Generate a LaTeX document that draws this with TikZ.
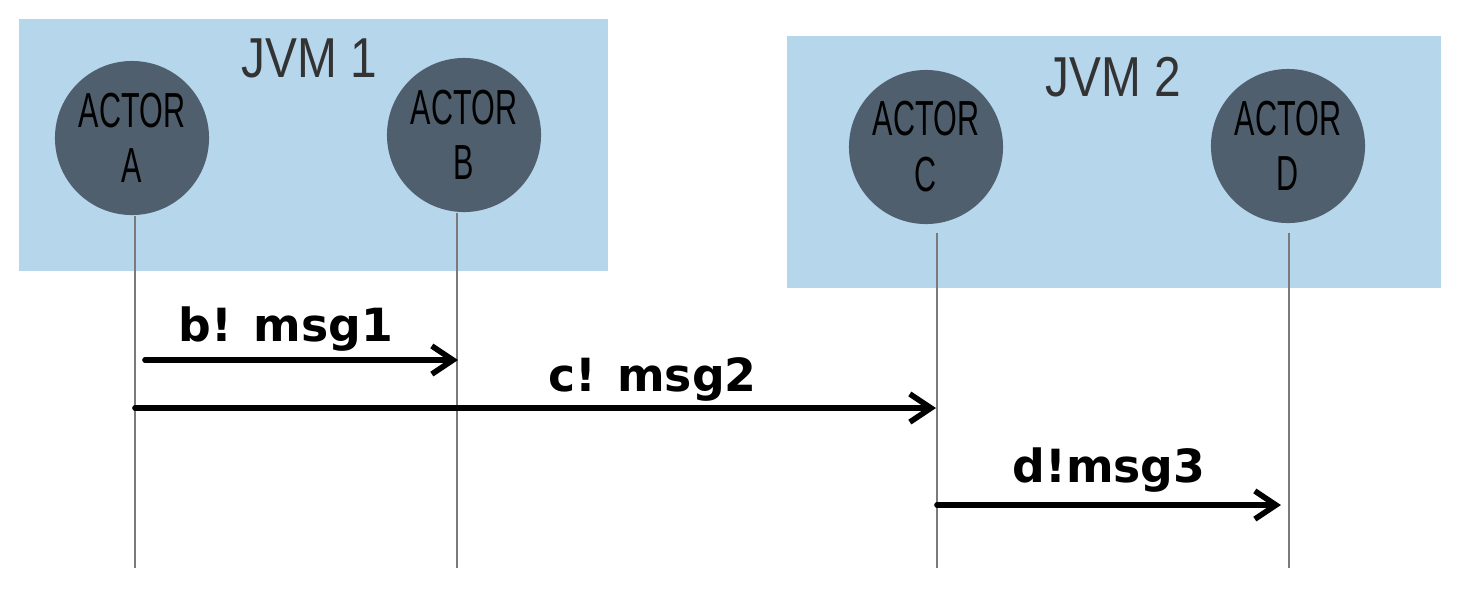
\documentclass[tikz,border=0pt]{standalone}
\usepackage{fontspec}
\setmainfont{Liberation Sans}
\newfontfamily\handthin[FakeStretch=0.62]{Liberation Sans}
\newfontfamily\handjvm[FakeStretch=0.85]{Liberation Sans}
\newfontfamily\handbold{DejaVu Sans}
\usetikzlibrary{arrows.meta, positioning}
\definecolor{jvmblue}{HTML}{B6D6EC}
\definecolor{actorgray}{HTML}{4F5F6D}
\definecolor{lifegray}{HTML}{7A7A7A}

\begin{document}
\begin{tikzpicture}[x=0.01cm, y=-0.01cm,
    jvm/.style={rectangle, fill=jvmblue, inner sep=0pt, anchor=north west, minimum height=2.52cm},
    jvmlabel/.style={text=black!80, font=\handjvm\fontsize{16}{16}\selectfont},
    actor/.style={circle, fill=actorgray, minimum size=1.54cm, inner sep=0pt, align=center, text=black,
        font=\handthin\fontsize{14}{16}\selectfont},
    lifeline/.style={draw=lifegray, line width=0.5pt},
    msg/.style={-{Straight Barb[length=6pt, width=8pt]}, line width=1.6pt, line cap=round},
    msglabel/.style={anchor=base, font=\handbold\bfseries\fontsize{13}{13}\selectfont}
]
    \useasboundingbox (0,0) rectangle (1457,590);

    % JVMs
    \node[jvm, minimum width=5.89cm] (jvm1) at (18,18) {};
    \node[jvmlabel] (jvm1lbl) at (309,58) {JVM 1};
    \node[jvm, minimum width=6.54cm] (jvm2) at (786,35) {};
    \node[jvmlabel] (jvm2lbl) at (1113,77) {JVM 2};

    % Actors
    \node[actor] (actA) at (132,138) {\raisebox{-1.5pt}{\shortstack{ACTOR\\[3pt]A}}};
    \node[actor] (actB) at (464,135) {\raisebox{-1.5pt}{\shortstack{ACTOR\\[3pt]B}}};
    \node[actor] (actC) at (926,147) {\raisebox{-1.5pt}{\shortstack{ACTOR\\[3pt]C}}};
    \node[actor] (actD) at (1288,146) {\raisebox{-1.5pt}{\shortstack{ACTOR\\[3pt]D}}};

    % Lifelines
    \coordinate (lifeA) at (135,568);
    \coordinate (lifeB) at (457,568);
    \coordinate (lifeC) at (937,568);
    \coordinate (lifeD) at (1289,568);
    \draw[lifeline] (actA.south -| lifeA) -- (lifeA);
    \draw[lifeline] (actB.south -| lifeB) -- (lifeB);
    \draw[lifeline] (actC.south -| lifeC) ++(0,8) -- (lifeC);
    \draw[lifeline] (actD.south -| lifeD) ++(0,9) -- (lifeD);

    % Messages
    \coordinate (m1from) at (145,360);
    \coordinate (m1to) at (458,360);
    \coordinate (m2from) at (135,408);
    \coordinate (m2to) at (936,408);
    \coordinate (m3from) at (937,505);
    \coordinate (m3to) at (1281,505);
    \draw[msg] (m1from) -- node[msglabel, pos=0.45, yshift=0.19cm] {b! msg1} (m1to);
    \draw[msg] (m2from) -- node[msglabel, pos=0.646, yshift=0.17cm] {c! msg2} (m2to);
    \draw[msg] (m3from) -- node[msglabel, pos=0.5, yshift=0.23cm] {d!msg3} (m3to);
\end{tikzpicture}
\end{document}
